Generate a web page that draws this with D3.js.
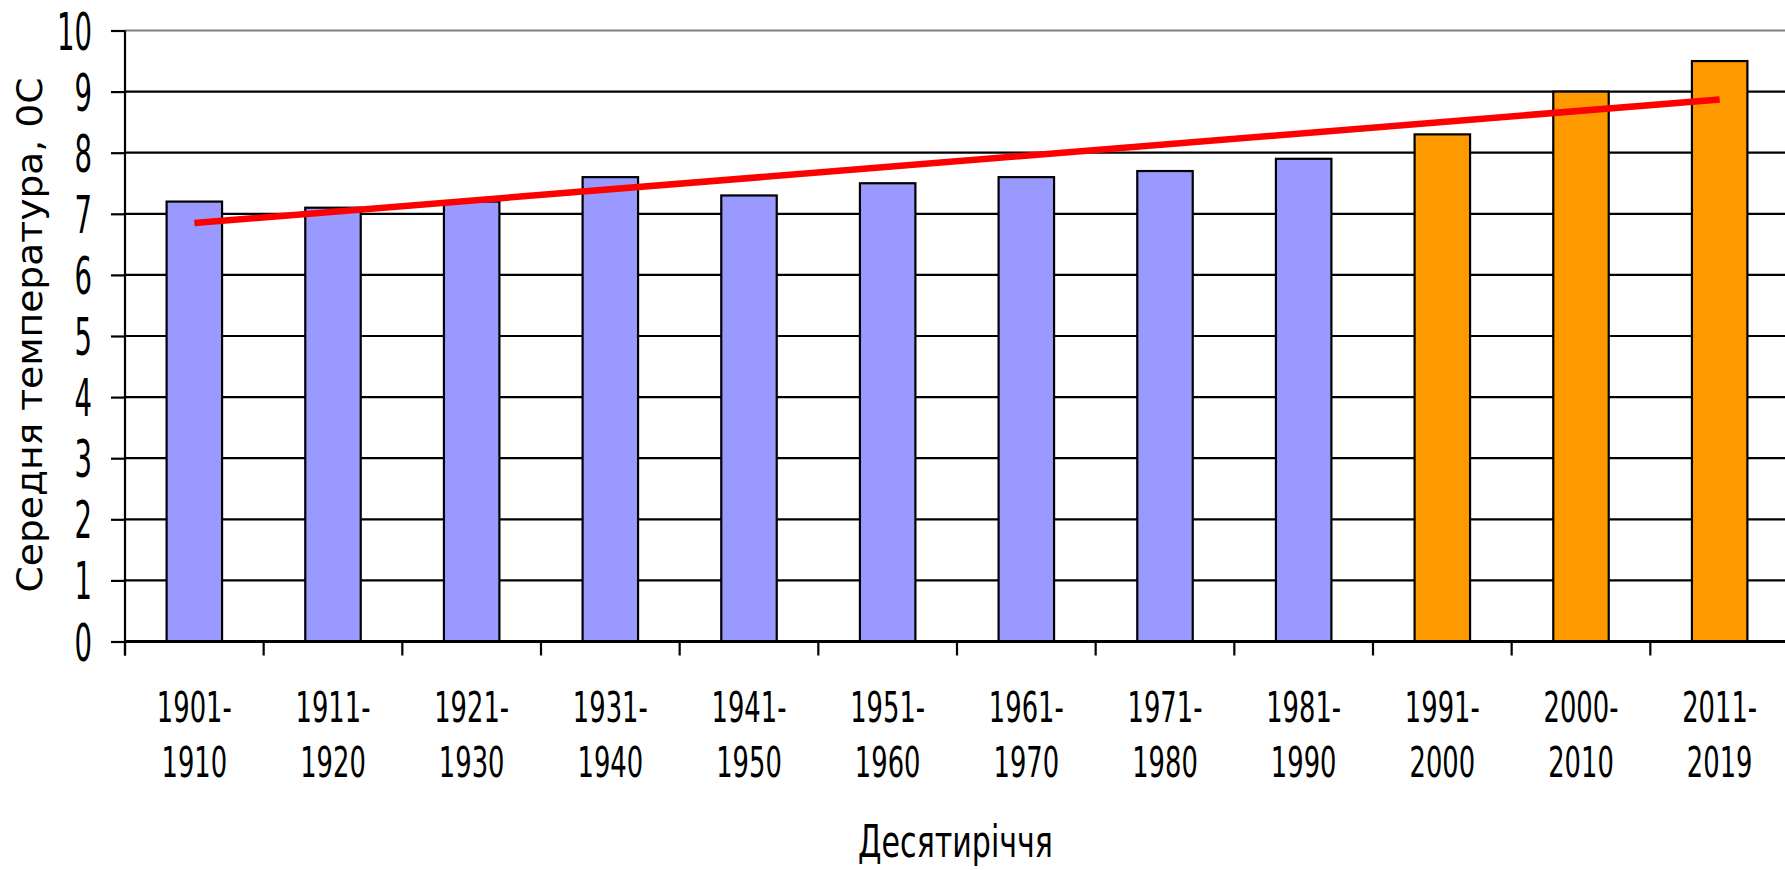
<!DOCTYPE html>
<html>
<head>
<meta charset="utf-8">
<script src="https://cdn.jsdelivr.net/npm/d3@7"></script>
<style>
  body { margin: 0; background: #fff; }
  text { font-family: "DejaVu Sans", Verdana, sans-serif; fill: #000; }
</style>
</head>
<body>
<div id="chart"></div>
<script>
// decades and mean temperature (deg C)
var decades = ["1901-1910", "1911-1920", "1921-1930", "1931-1940", "1941-1950", "1951-1960",
               "1961-1970", "1971-1980", "1981-1990", "1991-2000", "2000-2010", "2011-2019"];
var temps = [7.2, 7.1, 7.2, 7.6, 7.3, 7.5, 7.6, 7.7, 7.9, 8.3, 9.0, 9.5];
// recent decades are highlighted
var highlighted = ["1991-2000", "2000-2010", "2011-2019"];
// trend line end points
var trendCats = ["1901-1910", "2011-2019"];
var trendVals = [6.85, 8.87];
var yTicks = [0, 1, 2, 3, 4, 5, 6, 7, 8, 9, 10];

var width = 1785, height = 870;
var svg = d3.select("#chart").append("svg")
    .attr("width", width)
    .attr("height", height)
    .style("display", "block");

var x = d3.scaleBand().domain(decades).range([125, 1789]);
var y = d3.scaleLinear().domain([0, 10]).range([641.5, 30.5]);

// squeeze/stretch a text horizontally so it fills the wanted width
function fitWidth(sel, target) {
    sel.each(function() {
        var w = this.getComputedTextLength();
        var t = d3.select(this);
        t.attr("transform", t.attr("data-base") + " scale(" + (target / w) + ",1)");
    });
}

// gridlines
svg.append("g").selectAll("line")
    .data(yTicks.filter(function(d) { return d > 0; }))
    .enter().append("line")
    .attr("x1", 125).attr("x2", width)
    .attr("y1", function(d) { return y(d); })
    .attr("y2", function(d) { return y(d); })
    .attr("stroke", function(d) { return d === 10 ? "#808080" : "#000"; })
    .attr("stroke-width", 2.2);

// bars
var bw = x.bandwidth() * 0.4;
svg.append("g").selectAll("rect")
    .data(decades)
    .enter().append("rect")
    .attr("x", function(d) { return x(d) + (x.bandwidth() - bw) / 2; })
    .attr("y", function(d, i) { return y(temps[i]); })
    .attr("width", bw)
    .attr("height", function(d, i) { return y(0) - y(temps[i]); })
    .attr("fill", function(d) { return highlighted.indexOf(d) >= 0 ? "#ff9900" : "#9999ff"; })
    .attr("stroke", "#000")
    .attr("stroke-width", 2.2);

// y axis
var yAxis = svg.append("g")
    .attr("transform", "translate(125,0)")
    .call(d3.axisLeft(y).tickValues(yTicks).tickSize(14).tickFormat(""));
yAxis.select(".domain").attr("stroke", "#000").attr("stroke-width", 2.2)
    .attr("d", "M0," + y(10) + "V" + (y(0) + 14));
yAxis.selectAll(".tick line").attr("stroke", "#000").attr("stroke-width", 2.2);

yAxis.selectAll(".tick").append("text")
    .attr("text-anchor", "end")
    .attr("font-size", 51)
    .attr("transform", "translate(-33,18.5) scale(0.54,1)")
    .text(function(d) { return d; });

// x axis
var xAxis = svg.append("g")
    .attr("transform", "translate(0," + y(0) + ")");
xAxis.append("line")
    .attr("x1", 125).attr("x2", width)
    .attr("stroke", "#000").attr("stroke-width", 2.8);
xAxis.selectAll(".xtick")
    .data(decades)
    .enter().append("line")
    .attr("class", "xtick")
    .attr("x1", function(d) { return x(d); })
    .attr("x2", function(d) { return x(d); })
    .attr("y1", 0).attr("y2", 14)
    .attr("stroke", "#000").attr("stroke-width", 2.2);

var labels = xAxis.selectAll(".xlab")
    .data(decades)
    .enter().append("g")
    .attr("class", "xlab")
    .attr("transform", function(d) { return "translate(" + (x(d) + x.bandwidth() / 2) + ",0)"; });
labels.append("text")
    .attr("text-anchor", "middle")
    .attr("font-size", 43)
    .attr("transform", "translate(0,80) scale(0.6,1)")
    .text(function(d) { return d.split("-")[0] + "-"; });
labels.append("text")
    .attr("text-anchor", "middle")
    .attr("font-size", 43)
    .attr("transform", "translate(0,135.5) scale(0.6,1)")
    .text(function(d) { return d.split("-")[1]; });

// trend line
var line = d3.line()
    .x(function(d, i) { return x(trendCats[i]) + x.bandwidth() / 2; })
    .y(function(d) { return y(d); });
svg.append("path")
    .datum(trendVals)
    .attr("d", line)
    .attr("fill", "none")
    .attr("stroke", "#ff0000")
    .attr("stroke-width", 6.5);

// axis titles
svg.append("text")
    .attr("text-anchor", "middle")
    .attr("font-size", 45)
    .attr("data-base", "translate(955.5,857)")
    .text("Десятиріччя")
    .call(fitWidth, 195);

svg.append("text")
    .attr("text-anchor", "middle")
    .attr("font-size", 35)
    .attr("data-base", "translate(42,335) rotate(-90)")
    .text("Середня температура, 0С")
    .call(fitWidth, 515);
</script>
</body>
</html>
